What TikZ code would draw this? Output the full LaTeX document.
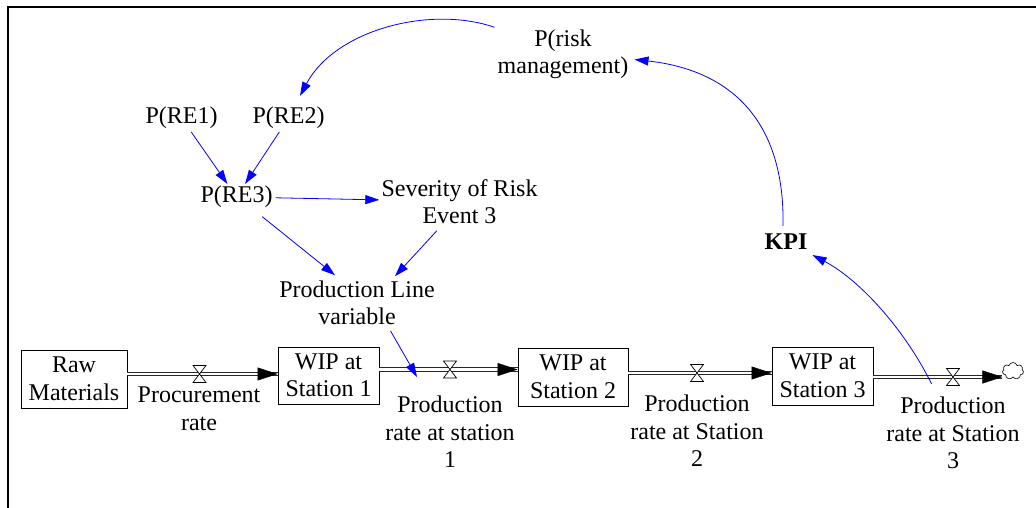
\documentclass[tikz,border=0pt]{standalone}
\usepackage{fontspec}
\setmainfont{Liberation Serif}
\usetikzlibrary{arrows.meta,shapes.symbols,calc}
\begin{document}
\begin{tikzpicture}[x=1pt,y=-1pt,
  every node/.style={font=\fontsize{24}{27.5}\selectfont, align=center, inner sep=2pt},
  stock/.style={draw, line width=0.9pt, inner sep=0pt},
  auxvar/.style={},
  link/.style={draw=blue, line width=0.8pt, -{Triangle[length=14pt,width=9pt]}, shorten <=1pt},
  pipe/.style={double=white, draw=black!85, line width=1.1pt, double distance=2.6pt},
  flowtip/.style={-{Triangle[length=20pt,width=13pt]}, line width=0.4pt},
  valve/.pic={\draw[fill=white, line width=0.7pt] (-6.5,-8.5) -- (6.5,-8.5) -- (-6.5,8.5) -- (6.5,8.5) -- cycle;}
]
\useasboundingbox (0,0) rectangle (1036,508);
% frame
\draw[line width=2pt] (8,509) -- (8,7) -- (1037,7);

% stocks
\node[stock, minimum width=106pt, minimum height=58pt] (raw) at (74,379) {Raw\\Materials};
\node[stock, minimum width=101pt, minimum height=57pt] (wip1) at (328.5,375.5) {WIP at\\Station 1};
\node[stock, minimum width=110pt, minimum height=58pt] (wip2) at (573,377) {WIP at\\Station 2};
\node[stock, minimum width=101pt, minimum height=58pt] (wip3) at (822.5,376) {WIP at\\Station 3};
\node[cloud, draw, cloud puffs=7, cloud puff arc=150, aspect=1.2, minimum width=21pt, minimum height=17pt, inner sep=0pt, line width=0.6pt] (sink) at (1013,371) {};

% valve positions
\coordinate (v0) at (199.5,374);
\coordinate (v1) at (450,369.5);
\coordinate (v2) at (697,373);
\coordinate (v3) at (953,377);
\coordinate (pl1) at (417,377);

% flow pipes
\draw[pipe] (raw.east |- v0) -- (wip1.west |- v0);
\draw[flowtip] ($(wip1.west |- v0)+(-20,0)$) -- (wip1.west |- v0);
\draw[pipe] (wip1.east |- v1) -- (wip2.west |- v1);
\draw[flowtip] ($(wip2.west |- v1)+(-20,0)$) -- (wip2.west |- v1);
\draw[pipe] (wip2.east |- v2) -- (wip3.west |- v2);
\draw[flowtip] ($(wip3.west |- v2)+(-20,0)$) -- (wip3.west |- v2);
\draw[pipe] (wip3.east |- v3) -- (sink.west |- v3);
\draw[flowtip] ($(sink.west |- v3)+(-20,0)$) -- (sink.west |- v3);
\pic at (v0) {valve};
\pic at (v1) {valve};
\pic at (v2) {valve};
\pic at (v3) {valve};

% flow labels
\node[auxvar] (pr0) at (199,409) {Procurement\\rate};
\node[auxvar] (pr1) at (450,432) {Production\\rate at station\\1};
\node[auxvar] (pr2) at (697,431) {Production\\rate at Station\\2};
\node[auxvar] (pr3) at (953,433) {Production\\rate at Station\\3};

% auxiliaries
\node[auxvar] (rm) at (563,54.5) {P(risk\\management)};
\node[auxvar] (re1) at (181.5,118) {P(RE1)};
\node[auxvar] (re2) at (288.5,118) {P(RE2)};
\node[auxvar] (re3) at (236.5,197) {P(RE3)};
\node[auxvar] (sev) at (459.5,201.5) {Severity of Risk\\Event 3};
\node[auxvar] (plv) at (357,302.6) {Production Line\\variable};
\node[auxvar, font=\fontsize{24}{27.5}\selectfont\bfseries] (kpi) at (786,242) {KPI};

% causal links
\draw[link] (re1) -- (re3);
\draw[link] (re2) -- (re3);
\draw[link] (re3) -- (sev);
\draw[link] ([shift={(25,6)}]re3.south) -- ([shift={(-22,-3)}]plv.north);
\draw[link] ([shift={(-22,4)}]sev.south) -- ([shift={(38,-2)}]plv.north);
\draw[link] ([shift={(33,3)}]plv.south) -- (pl1);
\draw[link] ([shift={(-21,-10)}]pr3.north) .. controls (905,330) and (860,280) .. ([shift={(3,3)}]kpi.south east);
\draw[link] ([shift={(-3,-5)}]kpi.north) .. controls (785,120) and (730,70) .. ([shift={(4,5)}]rm.east);
\draw[link] (rm.north west) .. controls (430,5) and (335,30) .. ([shift={(11.5,-9)}]re2.north);
\end{tikzpicture}
\end{document}
